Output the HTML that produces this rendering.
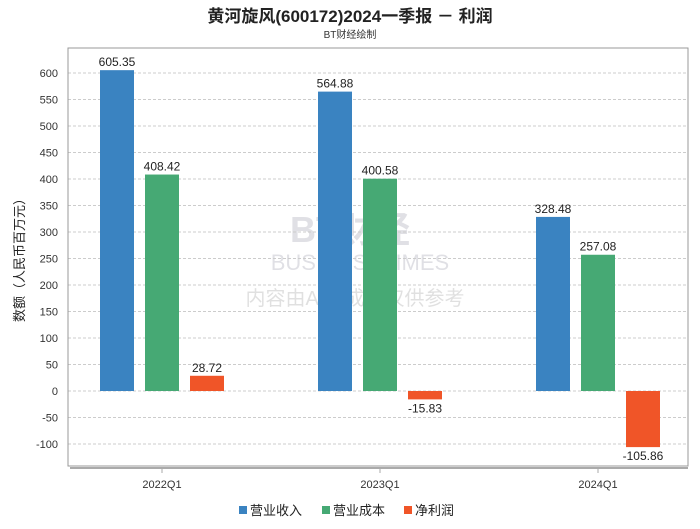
<!DOCTYPE html>
<html><head><meta charset="utf-8"><style>
body{margin:0;background:#fff;font-family:"Liberation Sans","Noto Sans CJK SC",sans-serif}
svg text{font-family:"Liberation Sans","Noto Sans CJK SC",sans-serif}
</style></head><body>
<svg id="c" width="700" height="524">
<text x="350" y="22" text-anchor="middle" font-size="17" font-weight="bold" fill="#222">黄河旋风(600172)2024一季报 － 利润</text>
<text x="350" y="38" text-anchor="middle" font-size="10" fill="#333">BT财经绘制</text>
<g opacity="0.25">
<text x="350" y="242" text-anchor="middle" font-size="36" font-weight="bold" fill="#889" font-family="Liberation Serif">BT财经</text>
<text x="360" y="270" text-anchor="middle" font-size="22" fill="#889" font-family="Liberation Serif">BUSINESSTIMES</text>
<text x="355" y="305" text-anchor="middle" font-size="20" fill="#888">内容由AI生成，仅供参考</text>
</g>
<g id="grid"></g><g id="bars"></g>
<rect x="68" y="48" width="620" height="418" fill="none" stroke="#999"/>
<line x1="70" y1="468" x2="688" y2="468" stroke="#aaa" stroke-width="2"/>
<text transform="translate(24,257) rotate(-90)" text-anchor="middle" font-size="13" fill="#222">数额（人民币百万元）</text>
<g>
<rect x="239" y="506" width="8" height="8" fill="#3a83c1"/>
<text x="250" y="515" font-size="13" fill="#222">营业收入</text>
<rect x="322" y="506" width="8" height="8" fill="#46a974"/>
<text x="333" y="515" font-size="13" fill="#222">营业成本</text>
<rect x="404" y="506" width="8" height="8" fill="#f05528"/>
<text x="415" y="515" font-size="13" fill="#222">净利润</text>
</g>
</svg>
<script>
const categories=["2022Q1","2023Q1","2024Q1"];
const revenue=[605.35,564.88,328.48];
const cost=[408.42,400.58,257.08];
const profit=[28.72,-15.83,-105.86];
const ticks=[600,550,500,450,400,350,300,250,200,150,100,50,0,-50,-100];
const NS="http://www.w3.org/2000/svg";
const y=v=>391-v*0.53;
const xc=i=>162+218*i;
const g=document.getElementById('grid'),b=document.getElementById('bars');
function mk(tag,a,p){const e=document.createElementNS(NS,tag);for(const k in a)e.setAttribute(k,a[k]);p.appendChild(e);return e;}
ticks.forEach(t=>{
 const l=mk('line',{x1:68,x2:688,y1:y(t),y2:y(t),stroke:'#ccc','stroke-dasharray':'3,2'},g);
 
 
 const tx=mk('text',{x:58,y:y(t)+4,'text-anchor':'end','font-size':11,fill:'#333'},g);tx.textContent=t;
 
 
});
const series=[[revenue,'#3a83c1',-45,'revenue'],[cost,'#46a974',0,'cost'],[profit,'#f05528',45,'profit']];
categories.forEach((c,i)=>{
 const t=mk('text',{x:xc(i),y:488,'text-anchor':'middle','font-size':11,fill:'#333'},b);t.textContent=c;
 
 
 mk('line',{x1:xc(i),x2:xc(i),y1:468,y2:473,stroke:'#aaa'},b);
 series.forEach(([d,col,off,nm])=>{
  const v=d[i],x=xc(i)+off-17,top=Math.min(y(v),y(0)),h=Math.abs(y(v)-y(0));
  const r=mk('rect',{x:x,y:top,width:34,height:h,fill:col},b);
  
  
  const l=mk('text',{x:x+17,y:v>=0?top-4:top+h+13,'text-anchor':'middle','font-size':12,fill:'#222'},b);l.textContent=v.toFixed(2);
  
  
 });
});
</script>
</body></html>
